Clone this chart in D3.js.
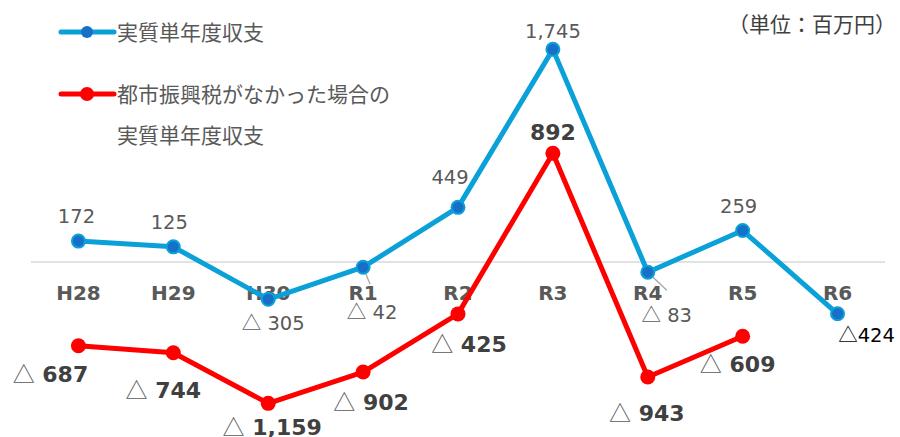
<!DOCTYPE html>
<html><head><meta charset="utf-8">
<script src="https://cdn.jsdelivr.net/npm/d3@7"></script>
<style>
html,body{margin:0;padding:0;background:#fff;}
svg{display:block;}
</style></head>
<body>
<svg id="chart" width="900" height="437"></svg>
<script>
// ---- data ----
const categories = ["H28","H29","H30","R1","R2","R3","R4","R5","R6"];
const actualBalance = [172, 125, -305, -42, 449, 1745, -83, 259, -424];        // 実質単年度収支
const balanceWithoutTax = [-687, -744, -1159, -902, -425, 892, -943, -609, null]; // 都市振興税がなかった場合
const seriesNames = ["実質単年度収支", "都市振興税がなかった場合の", "実質単年度収支"];
const unitLabel = "（単位：百万円）";

// label nudges (layout, relative to the point)
const blueLabelNudge = [[-2,-25],[-4,-25],[5,24],[9,45],[-8,-30],[0,-18],[19,43],[-4,-25],[29,21]];
const redLabelNudge  = [[-28,28],[-10,37],[4,24],[8,30],[11,30],[0,-21],[-1,36],[-5,28]];

const BLUE = "#0aa0d8", BLUE_DOT = "#1670c8", RED = "#ff0000";
const LATIN = "'DejaVu Sans', Verdana, sans-serif";
const CJK = "'Noto Sans CJK JP', sans-serif";

const svg = d3.select("#chart");
const x = d3.scaleBand().domain(categories).range([31, 885]);
const cx = c => x(c) + x.bandwidth()/2;
const y = d3.scaleLinear().domain([-1435, 2150]).range([437, 0]);

const fmt = v => v < 0 ? d3.format(",")(-v) : d3.format(",")(v);

// zero line
svg.append("line").attr("x1", x.range()[0]).attr("x2", x.range()[1])
  .attr("y1", y(0)).attr("y2", y(0)).attr("stroke", "#d9d9d9").attr("stroke-width", 1.5);

// category labels
svg.append("g").selectAll("text").data(categories).join("text")
  .attr("x", d => cx(d)).attr("y", y(0) + 38)
  .attr("text-anchor", "middle").attr("font-family", LATIN).attr("font-weight", "bold")
  .attr("font-size", 20).attr("fill", "#595959").text(d => d);

// leader lines for R1 and R4
[["R1", -42, 7, 17], ["R4", -83, 19, 18]].forEach(([c, v, dx, dy]) => {
  svg.append("line").attr("x1", cx(c)).attr("y1", y(v)).attr("x2", cx(c)+dx).attr("y2", y(v)+dy)
    .attr("stroke", "#a6a6a6").attr("stroke-width", 1.3);
});

const line = d3.line().defined(d => d.v !== null).x(d => cx(d.c)).y(d => y(d.v));
const blue = categories.map((c,i) => ({c, v: actualBalance[i], i}));
const red = categories.map((c,i) => ({c, v: balanceWithoutTax[i], i}));

svg.append("path").datum(blue).attr("d", line).attr("fill","none")
  .attr("stroke", BLUE).attr("stroke-width", 5).attr("stroke-linejoin","round");
svg.append("path").datum(red).attr("d", line).attr("fill","none")
  .attr("stroke", RED).attr("stroke-width", 5).attr("stroke-linejoin","round");

svg.append("g").selectAll("circle").data(blue).join("circle")
  .attr("cx", d => cx(d.c)).attr("cy", d => y(d.v)).attr("r", 6.5)
  .attr("fill", BLUE_DOT).attr("stroke", BLUE).attr("stroke-width", 2);
svg.append("g").selectAll("circle").data(red.filter(d => d.v !== null)).join("circle")
  .attr("cx", d => cx(d.c)).attr("cy", d => y(d.v)).attr("r", 7.5).attr("fill", RED);

// blue labels
const bl = svg.append("g").selectAll("text").data(blue).join("text")
  .attr("x", d => cx(d.c) + blueLabelNudge[d.i][0])
  .attr("y", d => y(d.v) + blueLabelNudge[d.i][1] + 7)
  .attr("text-anchor","middle").attr("font-family", LATIN).attr("font-size", 19.5)
  .attr("fill", d => d.c === "R6" ? "#000" : "#595959");
bl.each(function(d){
  const t = d3.select(this);
  if (d.v < 0) {
    t.append("tspan").attr("font-family", CJK).text("△");
    t.append("tspan").text((d.c === "R6" ? "" : " ") + fmt(d.v));
  } else t.text(fmt(d.v));
});

// red labels
const rl = svg.append("g").selectAll("text").data(red.filter(d => d.v !== null)).join("text")
  .attr("x", d => cx(d.c) + redLabelNudge[d.i][0])
  .attr("y", d => y(d.v) + redLabelNudge[d.i][1] + 8)
  .attr("text-anchor","middle").attr("font-family", LATIN).attr("font-size", 22)
  .attr("fill", "#404040");
rl.each(function(d){
  const t = d3.select(this);
  if (d.v < 0) {
    t.append("tspan").attr("font-family", CJK).attr("font-weight","normal").attr("fill","#595959").text("△");
    t.append("tspan").attr("font-weight","bold").text(" " + fmt(d.v));
  } else t.append("tspan").attr("font-weight","bold").text(fmt(d.v));
});

// legend
const lg = svg.append("g");
[[BLUE, BLUE_DOT, 32, 6], [RED, RED, 94, 7]].forEach(([c, dot, ly, r]) => {
  lg.append("line").attr("x1", 61).attr("x2", 114).attr("y1", ly).attr("y2", ly)
    .attr("stroke", c).attr("stroke-width", 5).attr("stroke-linecap","round");
  lg.append("circle").attr("cx", 87).attr("cy", ly).attr("r", r).attr("fill", dot);
});
[[seriesNames[0], 32], [seriesNames[1], 94], [seriesNames[2], 135]].forEach(([t, ly]) => {
  lg.append("text").attr("x", 117).attr("y", ly + 8).attr("font-family", CJK)
    .attr("font-size", 21).attr("fill", "#595959").text(t);
});

svg.append("text").attr("x", 896).attr("y", 24 + 8).attr("text-anchor","end")
  .attr("font-family", CJK).attr("font-size", 21).attr("fill", "#404040").text(unitLabel);
</script>
</body></html>
